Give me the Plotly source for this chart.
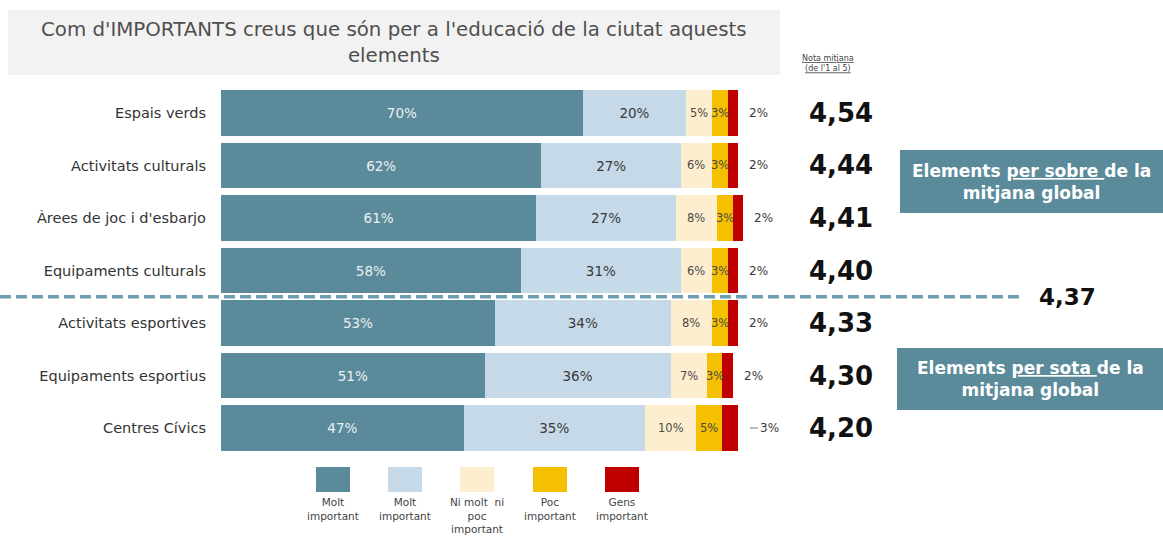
import plotly.graph_objects as go

# Elements avaluats (de dalt a baix)
categories = [
    "Espais verds",
    "Activitats culturals",
    "Àrees de joc i d'esbarjo",
    "Equipaments culturals",
    "Activitats esportives",
    "Equipaments esportius",
    "Centres Cívics",
]

# Percentatges per resposta
molt_important = [70, 62, 61, 58, 53, 51, 47]
bastant_important = [20, 27, 27, 31, 34, 36, 35]
ni_molt_ni_poc = [5, 6, 8, 6, 8, 7, 10]
poc_important = [3, 3, 3, 3, 3, 3, 5]
gens_important = [2, 2, 2, 2, 2, 2, 3]

# Nota mitjana (de l'1 al 5)
nota_mitjana = ["4,54", "4,44", "4,41", "4,40", "4,33", "4,30", "4,20"]
mitjana_global = "4,37"
posicio_mitjana = 3.5  # entre Equipaments culturals i Activitats esportives

legend_labels = [
    "Molt<br>important",
    "Molt<br>important",
    "Ni molt  ni<br>poc<br>important",
    "Poc<br>important",
    "Gens<br>important",
]

series = [molt_important, bastant_important, ni_molt_ni_poc, poc_important, gens_important]
colors = ["#5b8b9b", "#c6d9e8", "#fdeecf", "#f5c000", "#c00000"]
text_colors = ["#e9f0f2", "#3a3a3a", "#4a4a4a", "#4a4a4a", "#3a3a3a"]

FONT = "DejaVu Sans, Liberation Sans, Arial, sans-serif"
W, H = 1163, 537

rows = list(range(len(categories)))

fig = go.Figure()
for i, vals in enumerate(series):
    big = i < 2
    fig.add_trace(go.Bar(
        y=rows,
        x=vals,
        orientation="h",
        marker=dict(color=colors[i], line=dict(width=0)),
        text=[f"{v}%" for v in vals] if big else None,
        textposition="inside" if big else "none",
        insidetextanchor="middle",
        textangle=0,
        textfont=dict(family=FONT, size=13.5, color=text_colors[i]),
        width=0.86,
        showlegend=False,
        hoverinfo="skip",
    ))

annotations = []
shapes = []

for r in rows:
    # Etiquetes dels segments petits, centrades al segment
    start = molt_important[r] + bastant_important[r]
    for vals, col in ((ni_molt_ni_poc, text_colors[2]), (poc_important, text_colors[3])):
        annotations.append(dict(
            x=start + vals[r] / 2, y=r, xref="x", yref="y", text=f"{vals[r]}%",
            showarrow=False, xanchor="center",
            font=dict(family=FONT, size=11.5, color=col),
        ))
        start += vals[r]
    total = start + gens_important[r]

    # Etiquetes de "Gens important" fora de la barra
    if r == len(rows) - 1:
        annotations.append(dict(
            x=total, y=r, xref="x", yref="y", text=f"{gens_important[r]}%",
            showarrow=True, ax=20, ay=0, arrowhead=0, arrowwidth=1,
            arrowcolor="#777777", standoff=12, xanchor="left",
            font=dict(family=FONT, size=12, color="#3a3a3a"),
        ))
    else:
        annotations.append(dict(
            x=total, y=r, xref="x", yref="y", text=f"{gens_important[r]}%",
            showarrow=False, xanchor="left", xshift=9,
            font=dict(family=FONT, size=12, color="#3a3a3a"),
        ))

    # Nota mitjana a la dreta
    annotations.append(dict(
        x=841 / W, y=r, xref="paper", yref="y", text=f"<b>{nota_mitjana[r]}</b>",
        showarrow=False, xanchor="center",
        font=dict(family=FONT, size=26, color="#111111"),
    ))

# Línia de la mitjana global
shapes.append(dict(
    type="line", xref="paper", yref="y", x0=0, x1=1020 / W,
    y0=posicio_mitjana, y1=posicio_mitjana,
    line=dict(color="#6f9eae", width=3.5, dash="11px,5px"),
    layer="above",
))
annotations.append(dict(
    x=1037 / W, y=posicio_mitjana, xref="paper", yref="y",
    text=f"<b>{mitjana_global}</b>", showarrow=False, xanchor="left",
    font=dict(family=FONT, size=23, color="#111111"),
))

# Caixa del títol
shapes.append(dict(
    type="rect", xref="paper", yref="paper",
    x0=8 / W, x1=780 / W, y0=1 - 75 / H, y1=1 - 10 / H,
    fillcolor="#f2f2f2", line=dict(width=0), layer="below",
))
annotations.append(dict(
    x=394 / W, y=1 - 43 / H, xref="paper", yref="paper",
    text="Com d'IMPORTANTS creus que són per a l'educació de la ciutat aquests<br>elements",
    showarrow=False, xanchor="center", yanchor="middle",
    font=dict(family=FONT, size=19.8, color="#4f4f4f"),
))

# Capçalera de la nota
annotations.append(dict(
    x=828 / W, y=1 - 63 / H, xref="paper", yref="paper",
    text="<u>Nota mitjana</u><br><u>(de l'1 al 5)</u>",
    showarrow=False, xanchor="center", yanchor="middle",
    font=dict(family=FONT, size=8, color="#444444"),
))

# Caixes de text de la dreta
boxes = [
    (900, 150, 213, "Elements <u>per sobre </u>de la<br>mitjana global"),
    (897, 348, 410, "Elements <u>per sota </u>de la<br>mitjana global"),
]
for x0, y0, y1, txt in boxes:
    shapes.append(dict(
        type="rect", xref="paper", yref="paper",
        x0=x0 / W, x1=1, y0=1 - y1 / H, y1=1 - y0 / H,
        fillcolor="#5b8b9b", line=dict(width=0), layer="below",
    ))
    annotations.append(dict(
        x=(x0 + W) / 2 / W, y=1 - (y0 + y1) / 2 / H, xref="paper", yref="paper",
        text=f"<b>{txt}</b>", showarrow=False, xanchor="center", yanchor="middle",
        font=dict(family=FONT, size=17, color="#ffffff"),
    ))

# Llegenda: quadrats amb el text a sota
legend_x = [333, 405, 477, 550, 622]
for i, lab in enumerate(legend_labels):
    cx = legend_x[i]
    shapes.append(dict(
        type="rect", xref="paper", yref="paper",
        x0=(cx - 17) / W, x1=(cx + 17) / W, y0=1 - 492 / H, y1=1 - 467 / H,
        fillcolor=colors[i], line=dict(width=0),
    ))
    annotations.append(dict(
        x=cx / W, y=1 - 494 / H, xref="paper", yref="paper",
        text=lab, showarrow=False, xanchor="center", yanchor="top",
        font=dict(family=FONT, size=10.5, color="#444444"),
    ))

top_px, bottom_px = 86.75, 454.25
fig.update_layout(
    width=W, height=H,
    margin=dict(l=0, r=0, t=0, b=0),
    paper_bgcolor="white", plot_bgcolor="white",
    barmode="stack",
    xaxis=dict(domain=[221 / W, 743 / W], range=[0, 101], visible=False, fixedrange=True),
    yaxis=dict(
        domain=[1 - bottom_px / H, 1 - top_px / H],
        range=[len(rows) - 0.5, -0.5],
        tickmode="array", tickvals=rows, ticktext=categories,
        showgrid=False, zeroline=False, showline=False, ticks="",
        ticklabelstandoff=14,
        tickfont=dict(family=FONT, size=14.5, color="#333333"),
        fixedrange=True,
    ),
    shapes=shapes,
    annotations=annotations,
    font=dict(family=FONT),
)

fig.write_html("out.html")
